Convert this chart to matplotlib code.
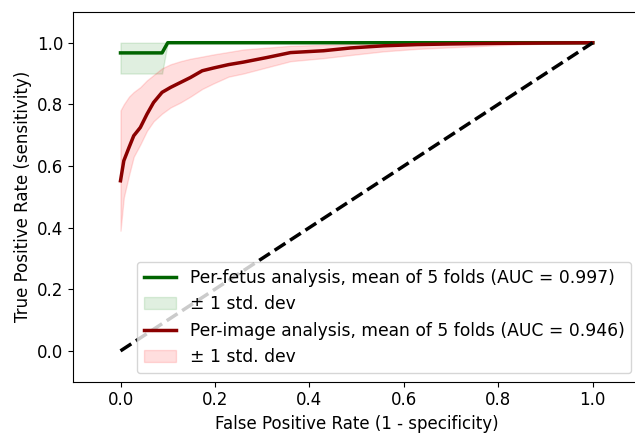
import matplotlib
matplotlib.use("Agg")
import matplotlib.pyplot as plt

# Per-fetus ROC (mean of 5 folds) and +/- 1 std band
fpr_fetus = [0.0, 0.088, 0.1, 1.0]
tpr_fetus = [0.967, 0.967, 1.0, 1.0]
fetus_lo = [0.9, 0.9, 1.0, 1.0]
fetus_hi = [1.0, 1.0, 1.0, 1.0]

# Per-image ROC (mean of 5 folds) and +/- 1 std band
fpr_image = [0, 0.007, 0.018, 0.028, 0.042, 0.056, 0.07, 0.088, 0.106, 0.127, 0.148, 0.173,
             0.197, 0.229, 0.26, 0.31, 0.36, 0.43, 0.487, 0.557, 0.628, 0.698, 0.8, 0.9, 1.0]
tpr_image = [0.552, 0.617, 0.66, 0.698, 0.725, 0.768, 0.806, 0.839, 0.855, 0.871, 0.887, 0.909,
             0.918, 0.929, 0.937, 0.952, 0.968, 0.974, 0.983, 0.99, 0.994, 0.996, 0.998, 0.999, 1.0]
image_hi = [0.78, 0.80, 0.825, 0.84, 0.856, 0.878, 0.895, 0.917, 0.93, 0.94, 0.948, 0.955,
            0.962, 0.97, 0.978, 0.984, 0.99, 0.993, 0.996, 0.998, 1.0, 1.0, 1.0, 1.0, 1.0]
image_lo = [0.39, 0.498, 0.57, 0.63, 0.67, 0.714, 0.745, 0.77, 0.79, 0.806, 0.825, 0.85,
            0.868, 0.89, 0.9, 0.92, 0.94, 0.95, 0.96, 0.972, 0.98, 0.985, 0.992, 0.997, 1.0]

auc_fetus = 0.997
auc_image = 0.946

fig = plt.figure(figsize=(6.35, 4.33), dpi=100)
ax = fig.add_axes([0.1154, 0.1185, 0.8924, 0.854])

ax.plot(fpr_fetus, tpr_fetus, color='darkgreen', lw=2.5,
        label=f'Per-fetus analysis, mean of 5 folds (AUC = {auc_fetus:.3f})')
ax.fill_between(fpr_fetus, fetus_lo, fetus_hi, color='green', alpha=0.12,
                label='± 1 std. dev')
ax.plot(fpr_image, tpr_image, color='darkred', lw=2.5,
        label=f'Per-image analysis, mean of 5 folds (AUC = {auc_image:.3f})')
ax.fill_between(fpr_image, image_lo, image_hi, color='red', alpha=0.13,
                label='± 1 std. dev')
ax.plot([0, 1], [0, 1], 'k--', lw=2.5)

ax.set_xlim(-0.1, 1.1)
ax.set_ylim(-0.1, 1.1)
ax.set_xticks([0.0, 0.2, 0.4, 0.6, 0.8, 1.0])
ax.set_yticks([0.0, 0.2, 0.4, 0.6, 0.8, 1.0])
ax.tick_params(labelsize=12)
ax.set_xlabel('False Positive Rate (1 - specificity)', fontsize=12)
ax.set_ylabel('True Positive Rate (sensitivity)', fontsize=12)
ax.legend(loc='lower right', fontsize=12.3, handlelength=1.9)

fig.savefig('out.png', dpi=100)
